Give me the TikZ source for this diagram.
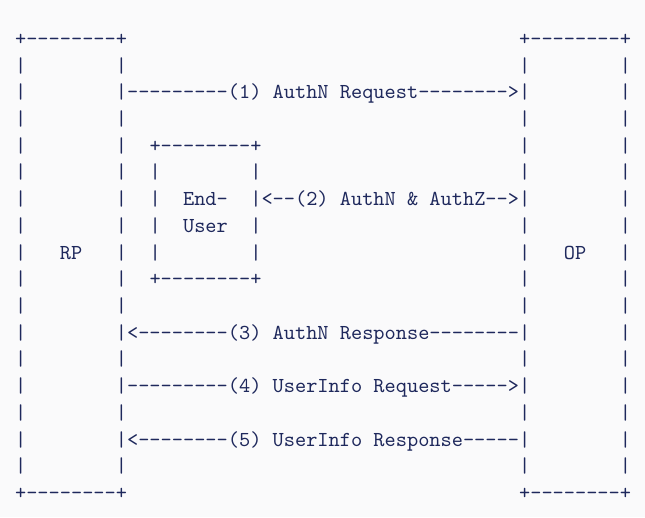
\documentclass[tikz,border=0pt]{standalone}
\usepackage{fontspec}
\setmonofont{lmmono10-regular.otf}
\definecolor{ink}{RGB}{30,40,92}
\definecolor{paper}{RGB}{250,250,251}
\tikzset{
  txt/.style={inner sep=0pt, outer sep=0pt, anchor=base west, text=ink,
    font=\fontsize{21.33}{26}\selectfont\ttfamily}
}
\newcommand\cell[4]{\node[txt] (#1) at ({15.1pt+11.2pt*#2},{517pt-45.5pt-26.7pt*#3}) {#4};}
\begin{document}
\begin{tikzpicture}
\fill[paper] (0,0) rectangle (645pt,517pt);
\useasboundingbox (0,0) rectangle (645pt,517pt);
% top edges
\cell{rpTop}{0}{0}{+--------+}
\cell{opTop}{45}{0}{+--------+}
% outer side bars
\foreach \r in {1,...,16}{
  \cell{rpL\r}{0}{\r}{|}
  \cell{opR\r}{54}{\r}{|}
}
% inner side bars (where no message run covers them)
\foreach \r in {1,3,4,5,6,7,8,9,10,12,14,16}{ \cell{rpR\r}{9}{\r}{|} }
\foreach \r in {1,3,4,5,7,8,9,10,12,14,16}{ \cell{opL\r}{45}{\r}{|} }
% messages
\cell{m1}{9}{2}{|---------(1) AuthN Request-------->|}
\cell{m3}{9}{11}{|<--------(3) AuthN Response--------|}
\cell{m4}{9}{13}{|---------(4) UserInfo Request----->|}
\cell{m5}{9}{15}{|<--------(5) UserInfo Response-----|}
% end-user box
\cell{euTop}{12}{4}{+--------+}
\cell{euBot}{12}{9}{+--------+}
\foreach \r in {5,6,7,8}{ \cell{euL\r}{12}{\r}{|} }
\foreach \r in {5,7,8}{ \cell{euR\r}{21}{\r}{|} }
\cell{m2}{21}{6}{|<--(2) AuthN \& AuthZ-->|}
\cell{eu1}{15}{6}{End-}
\cell{eu2}{15}{7}{User}
% labels
\cell{rp}{4}{8}{RP}
\cell{op}{49}{8}{OP}
% bottom edges
\cell{rpBot}{0}{17}{+--------+}
\cell{opBot}{45}{17}{+--------+}
\end{tikzpicture}
\end{document}
